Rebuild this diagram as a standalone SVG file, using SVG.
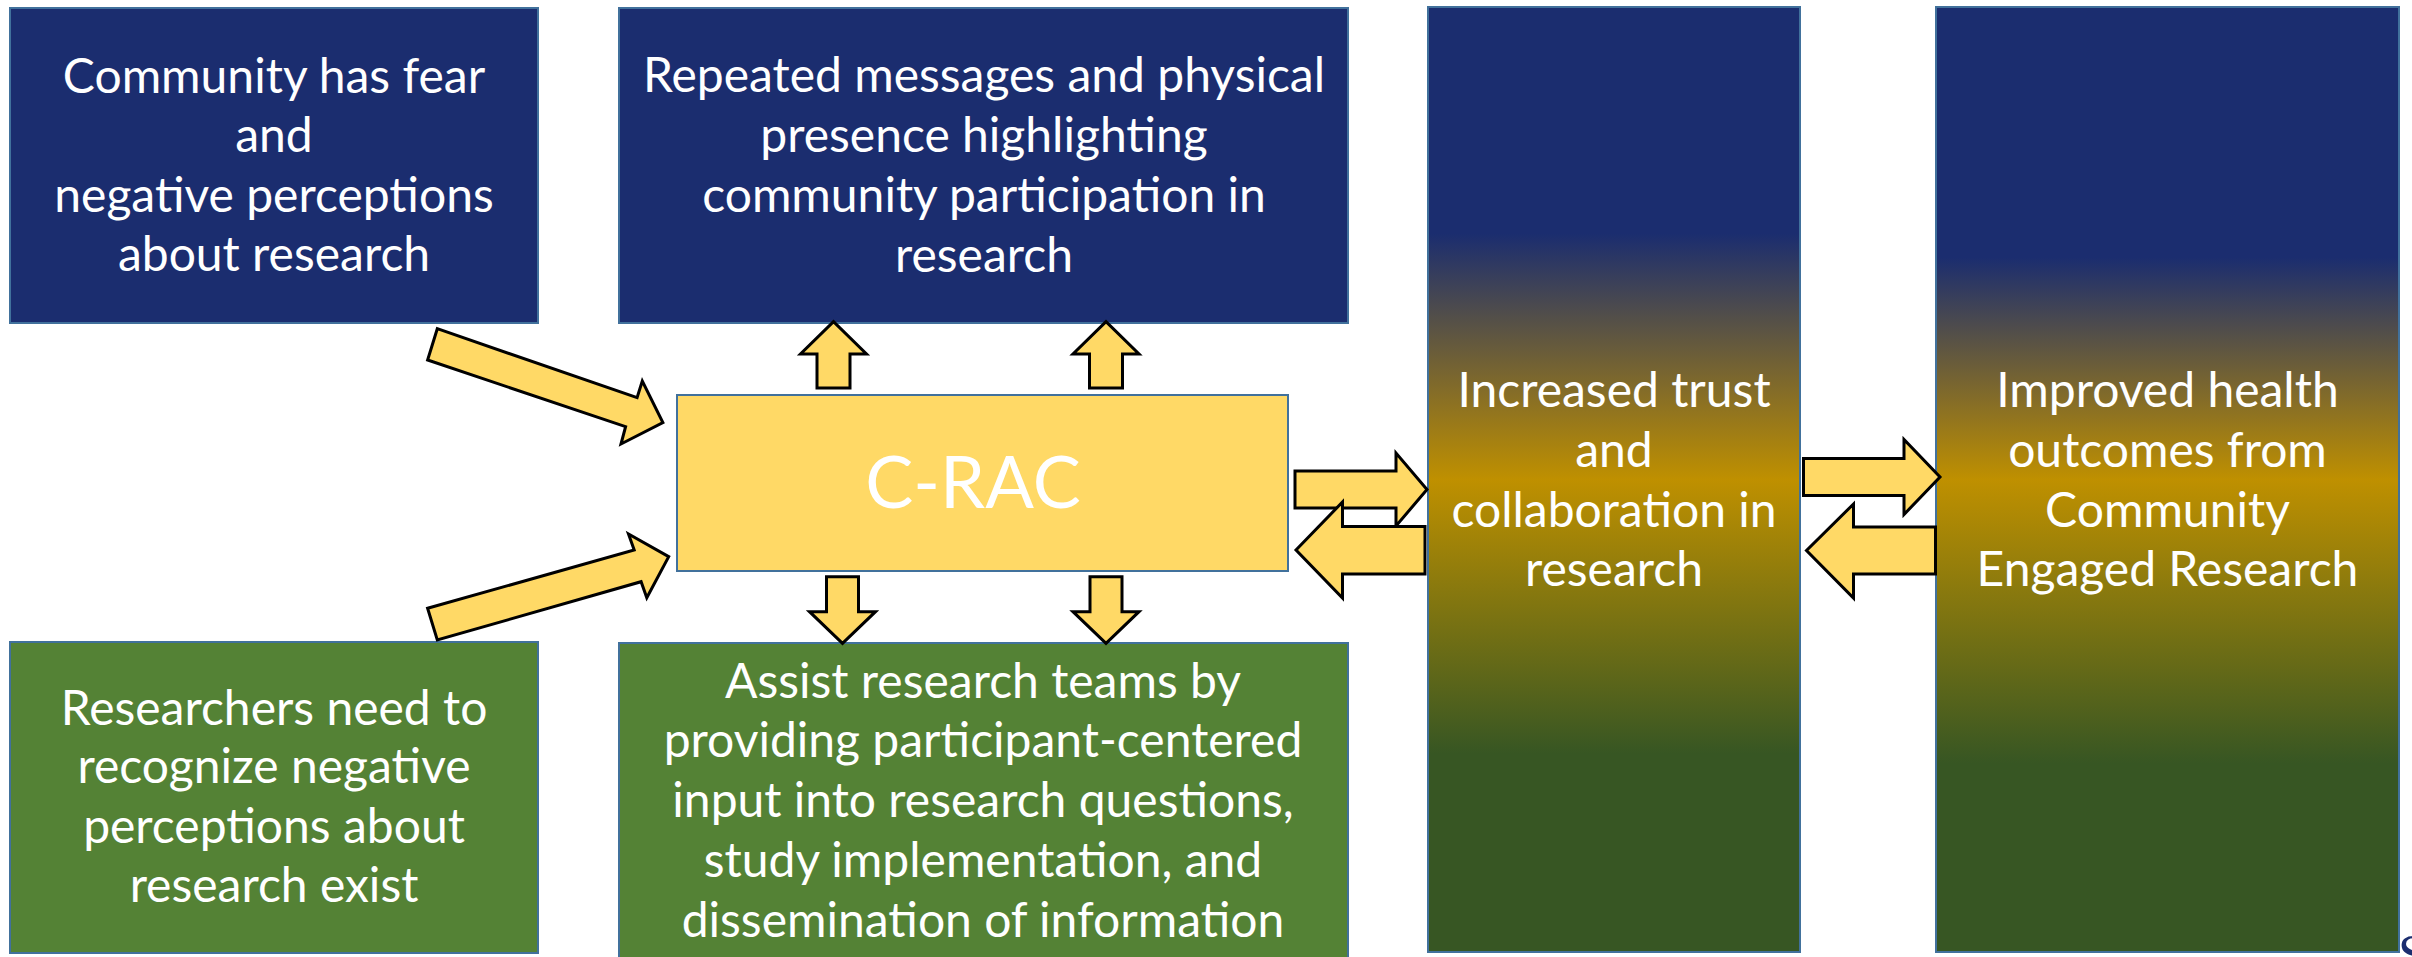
<svg xmlns="http://www.w3.org/2000/svg" width="2412" height="957" viewBox="0 0 2412 957">
  <defs>
    <linearGradient id="grad3" x1="0" y1="0" x2="0" y2="1">
      <stop offset="0" stop-color="#1B2D6F"/>
      <stop offset="0.24" stop-color="#1B2D6F"/>
      <stop offset="0.50" stop-color="#BF9000"/>
      <stop offset="0.79" stop-color="#375623"/>
      <stop offset="1" stop-color="#375623"/>
    </linearGradient>
    <linearGradient id="grad4" x1="0" y1="0" x2="0" y2="1">
      <stop offset="0" stop-color="#1B2D6F"/>
      <stop offset="0.265" stop-color="#1B2D6F"/>
      <stop offset="0.50" stop-color="#BF9000"/>
      <stop offset="0.80" stop-color="#375623"/>
      <stop offset="1" stop-color="#375623"/>
    </linearGradient>
  </defs>
  <style>
    .box { stroke: #41719C; stroke-width: 2; }
    .navy { fill: #1B2D6F; }
    .green { fill: #548235; }
    .crac { fill: #FFD966; }
    .lbl { font-family: Lato, "Open Sans", sans-serif; font-size: 48px; fill: #FFFFFF; text-anchor: middle; }
    .big { font-family: Lato, "Open Sans", sans-serif; font-size: 72px; fill: #FFFFFF; text-anchor: middle; }
    .arrow { fill: #FFD966; stroke: #000000; stroke-width: 3; stroke-linejoin: miter; }
    .logo { font-family: "Liberation Serif", serif; font-size: 54px; fill: #1B2D6F; }
  </style>

  <text class="logo" x="2398" y="972">S</text>

  <g id="node-community-fear">
    <rect class="box navy" x="10" y="8" width="528" height="315"/>
    <text class="lbl" x="274" y="93">Community has fear</text>
    <text class="lbl" x="274" y="152">and</text>
    <text class="lbl" x="274" y="212">negative perceptions</text>
    <text class="lbl" x="274" y="271">about research</text>
  </g>

  <g id="node-repeated-messages">
    <rect class="box navy" x="619" y="8" width="729" height="315"/>
    <text class="lbl" x="984" y="92">Repeated messages and physical</text>
    <text class="lbl" x="984" y="152">presence highlighting</text>
    <text class="lbl" x="984" y="212">community participation in</text>
    <text class="lbl" x="984" y="272">research</text>
  </g>

  <g id="node-crac">
    <rect class="box crac" x="677" y="395" width="611" height="176"/>
    <text class="big" x="973" y="508">C-RAC</text>
  </g>

  <g id="node-researchers-need">
    <rect class="box green" x="10" y="642" width="528" height="311"/>
    <text class="lbl" x="274" y="725">Researchers need to</text>
    <text class="lbl" x="274" y="783">recognize negative</text>
    <text class="lbl" x="274" y="843">perceptions about</text>
    <text class="lbl" x="274" y="902">research exist</text>
  </g>

  <g id="node-assist-research">
    <rect class="box green" x="619" y="643" width="729" height="320"/>
    <text class="lbl" x="983" y="698">Assist research teams by</text>
    <text class="lbl" x="983" y="757">providing participant-centered</text>
    <text class="lbl" x="983" y="817">input into research questions,</text>
    <text class="lbl" x="983" y="877">study implementation, and</text>
    <text class="lbl" x="983" y="937">dissemination of information</text>
  </g>

  <g id="node-increased-trust">
    <rect class="box" fill="url(#grad3)" x="1428" y="7" width="372" height="945"/>
    <text class="lbl" x="1614" y="407">Increased trust</text>
    <text class="lbl" x="1614" y="467">and</text>
    <text class="lbl" x="1614" y="527">collaboration in</text>
    <text class="lbl" x="1614" y="586">research</text>
  </g>

  <g id="node-improved-health">
    <rect class="box" fill="url(#grad4)" x="1936" y="7" width="463" height="945"/>
    <text class="lbl" x="2167.5" y="407">Improved health</text>
    <text class="lbl" x="2167.5" y="467">outcomes from</text>
    <text class="lbl" x="2167.5" y="527">Community</text>
    <text class="lbl" x="2167.5" y="586">Engaged Research</text>
  </g>

  <g id="connectors">
    <polygon class="arrow" points="437.3,328.7 637.1,397.7 642.3,381 662.9,422.7 621,444 625.6,426.7 427.6,360"/>
    <polygon class="arrow" points="427.6,608.3 634.2,550 628.5,534 668.7,556.7 646.8,597.7 641.1,581.7 437.3,640"/>
    <polygon class="arrow" points="817,388 817,354 800.5,354 833.5,321.7 866.5,354 850,354 850,388"/>
    <polygon class="arrow" points="1089.5,388 1089.5,354 1073,354 1106,321.7 1139,354 1122.5,354 1122.5,388"/>
    <polygon class="arrow" points="826.5,576.7 826.5,611.7 809.5,611.7 842.5,643.3 875.5,611.7 858.5,611.7 858.5,576.7"/>
    <polygon class="arrow" points="1090,576.7 1090,611.7 1073,611.7 1106,643.3 1139,611.7 1122,611.7 1122,576.7"/>
    <polygon class="arrow" points="1295,471 1396,471 1396,453 1427,489.5 1396,526 1396,508 1295,508"/>
    <polygon class="arrow" points="1425,526.5 1342.5,526.5 1342.5,502 1296,550 1342.5,598 1342.5,574 1425,574"/>
    <polygon class="arrow" points="1803.5,458.5 1904,458.5 1904,439.5 1940,477 1904,514.5 1904,495.5 1803.5,495.5"/>
    <polygon class="arrow" points="1935.5,527 1853.5,527 1853.5,504 1806.5,550.5 1853.5,598 1853.5,574 1935.5,574"/>
  </g>
</svg>
